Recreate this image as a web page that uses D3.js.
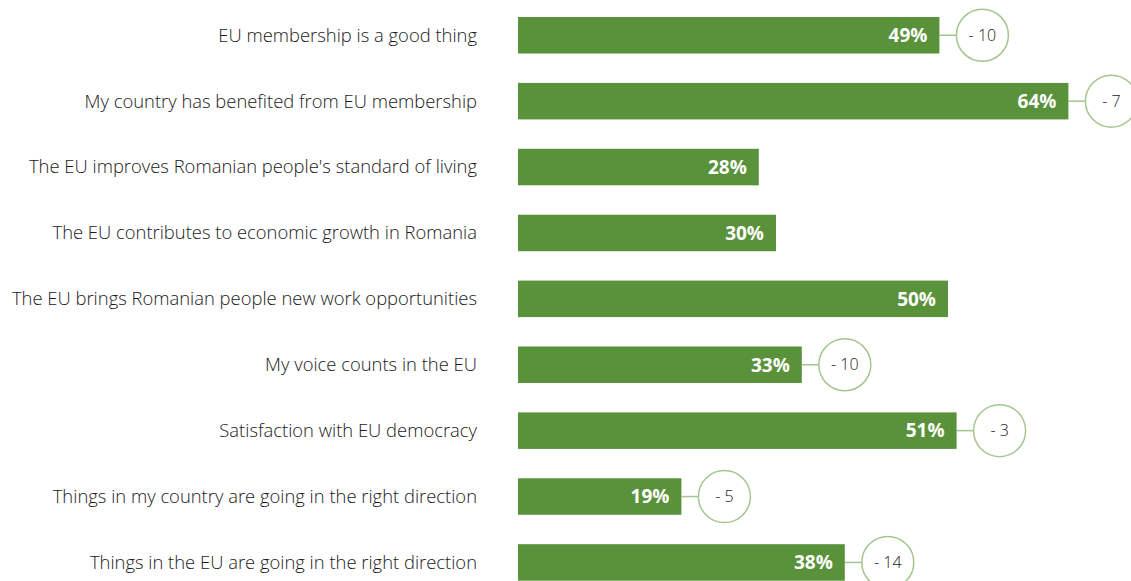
<!DOCTYPE html>
<html>
<head>
<meta charset="utf-8">
<script src="https://cdn.jsdelivr.net/npm/d3@7"></script>
<style>
html,body{margin:0;padding:0;background:#fff;overflow:hidden}
svg{display:block}
</style>
</head>
<body>
<svg id="chart" width="1131" height="581"></svg>
<script>
const categories = [
  "EU membership is a good thing",
  "My country has benefited from EU membership",
  "The EU improves Romanian people's standard of living",
  "The EU contributes to economic growth in Romania",
  "The EU brings Romanian people new work opportunities",
  "My voice counts in the EU",
  "Satisfaction with EU democracy",
  "Things in my country are going in the right direction",
  "Things in the EU are going in the right direction"
];
const values = [49, 64, 28, 30, 50, 33, 51, 19, 38];
const changes = [-10, -7, null, null, null, -10, -3, -5, -14];

const svg = d3.select("#chart");
const barColor = "#5a913b";
const ringColor = "#a5c58e";

const x = d3.scaleLinear().domain([0, 100]).range([518, 1378]);
const y = d3.scaleBand().domain(categories).range([17, 580.7]).paddingInner(0.446).paddingOuter(0);

const data = categories.map((c, i) => ({c, v: values[i], d: changes[i]}));

// labels
svg.append("g").selectAll("text").data(data).join("text")
  .attr("x", 477)
  .attr("y", d => y(d.c) + y.bandwidth() / 2)
  .attr("dy", "0.35em")
  .attr("text-anchor", "end")
  .attr("font-family", "'Open Sans', sans-serif")
  .attr("font-size", 18.4)
  .attr("font-weight", 300)
  .attr("fill", "#1a1a1a")
  .text(d => d.c);

// connectors
const withChange = data.filter(d => d.d !== null);
svg.append("g").selectAll("line").data(withChange).join("line")
  .attr("x1", d => x(d.v))
  .attr("x2", d => x(d.v) + 17)
  .attr("y1", d => y(d.c) + y.bandwidth() / 2)
  .attr("y2", d => y(d.c) + y.bandwidth() / 2)
  .attr("stroke", ringColor)
  .attr("stroke-width", 1.5);

// bars
svg.append("g").selectAll("rect").data(data).join("rect")
  .attr("x", x(0))
  .attr("y", d => y(d.c))
  .attr("width", d => x(d.v) - x(0))
  .attr("height", y.bandwidth())
  .attr("fill", barColor);

// value labels
svg.append("g").selectAll("text").data(data).join("text")
  .attr("x", d => x(d.v) - 12)
  .attr("y", d => y(d.c) + y.bandwidth() / 2)
  .attr("dy", "0.36em")
  .attr("text-anchor", "end")
  .attr("font-family", "'Open Sans', sans-serif")
  .attr("font-size", 19)
  .attr("font-weight", 700)
  .attr("fill", "#ffffff")
  .text(d => d.v + "%");

// circles
const g = svg.append("g").selectAll("g").data(withChange).join("g")
  .attr("transform", d => `translate(${x(d.v) + 43},${y(d.c) + y.bandwidth() / 2})`);
g.append("circle")
  .attr("r", 26)
  .attr("fill", "#fff")
  .attr("stroke", ringColor)
  .attr("stroke-width", 1.5);
g.append("text")
  .attr("text-anchor", "middle")
  .attr("dy", "0.35em")
  .attr("font-family", "'Open Sans', sans-serif")
  .attr("font-size", 16)
  .attr("font-weight", 300)
  .attr("fill", "#1a1a1a")
  .text(d => "- " + Math.abs(d.d));
</script>
</body>
</html>
